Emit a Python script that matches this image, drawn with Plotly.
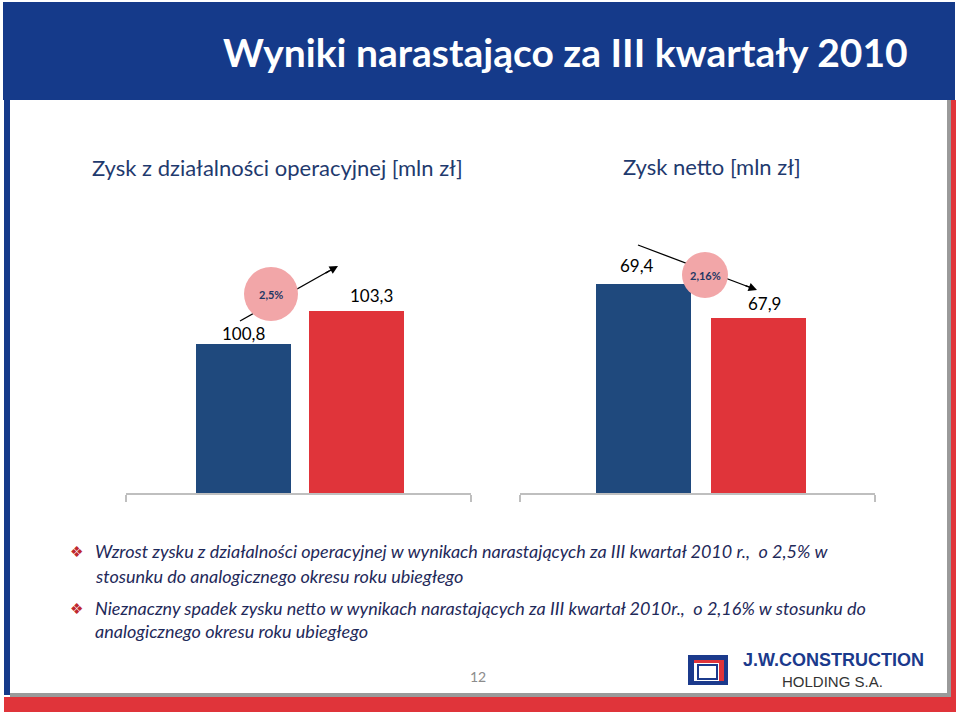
import plotly.graph_objects as go

W, H = 960, 716

# ---- data ----
periods = ["III kw. 2009", "III kw. 2010"]
op_profit = [100.8, 103.3]          # Zysk z działalności operacyjnej [mln zł]
net_profit = [69.4, 67.9]           # Zysk netto [mln zł]
op_labels = ["100,8", "103,3"]
net_labels = ["69,4", "67,9"]
op_change = "2,5%"
net_change = "2,16%"
bar_colors = ["#1F497D", "#E0343A"]

title_text = "Wyniki narastająco za III kwartały 2010"
sub_left = "Zysk z działalności operacyjnej [mln zł]"
sub_right = "Zysk netto [mln zł]"
bullet1 = ["Wzrost zysku z działalności operacyjnej w wynikach narastających za III kwartał 2010 r.,  o 2,5% w",
           "stosunku do analogicznego okresu roku ubiegłego"]
bullet2 = ["Nieznaczny spadek zysku netto w wynikach narastających za III kwartał 2010r.,  o 2,16% w stosunku do",
           "analogicznego okresu roku ubiegłego"]
page_no = "12"


def px(x):
    return x / W


def py(y):
    return 1 - y / H


fig = go.Figure()
fig.add_trace(go.Bar(x=[0, 1], y=op_profit, marker=dict(color=bar_colors, line=dict(width=0)),
                     width=0.84, xaxis="x", yaxis="y", hoverinfo="skip", showlegend=False))
fig.add_trace(go.Bar(x=[0, 1], y=net_profit, marker=dict(color=bar_colors, line=dict(width=0)),
                     width=0.826, xaxis="x2", yaxis="y2", hoverinfo="skip", showlegend=False))

ytop, ybot = 240, 493
xr1 = [-1.04, 2.013]
xr2 = [-1.074, 2.013]
axis_common = dict(showline=True, linecolor="#BFBFBF", linewidth=1.5, ticks="outside",
                   ticklen=7, tickcolor="#BFBFBF", tickwidth=1.5, showticklabels=False,
                   showgrid=False, zeroline=False, fixedrange=True)

fig.update_layout(
    width=W, height=H,
    margin=dict(l=0, r=0, t=0, b=0),
    paper_bgcolor="white", plot_bgcolor="rgba(0,0,0,0)",
    bargap=0,
    xaxis=dict(domain=[px(126), px(471)], range=xr1, tickvals=xr1, anchor="y", **axis_common),
    yaxis=dict(domain=[py(ybot), py(ytop)], range=[89.51, 89.51 + (ybot - ytop) / 13.2],
               visible=False, fixedrange=True, anchor="x"),
    xaxis2=dict(domain=[px(520), px(875)], range=xr2, tickvals=xr2, anchor="y2", **axis_common),
    yaxis2=dict(domain=[py(ybot), py(ytop)], range=[60.18, 60.18 + (ybot - ytop) / 22.67],
                visible=False, fixedrange=True, anchor="x2"),
    showlegend=False,
)

shapes = []
# header band
shapes.append(dict(type="rect", xref="paper", yref="paper", x0=px(3), x1=px(955), y0=py(100), y1=py(2),
                   fillcolor="#153A8A", line=dict(width=0), layer="below"))
# left blue strip
shapes.append(dict(type="rect", xref="paper", yref="paper", x0=px(4), x1=px(10), y0=py(695), y1=py(100),
                   fillcolor="#153A8A", line=dict(width=0), layer="below"))
# right gray + red strip
shapes.append(dict(type="rect", xref="paper", yref="paper", x0=px(947), x1=px(951), y0=py(697), y1=py(100),
                   fillcolor="#9A9A9A", line=dict(width=0), layer="below"))
shapes.append(dict(type="rect", xref="paper", yref="paper", x0=px(951), x1=px(956), y0=py(712), y1=py(100),
                   fillcolor="#E0343A", line=dict(width=0), layer="below"))
# bottom gray + red band
shapes.append(dict(type="rect", xref="paper", yref="paper", x0=px(10), x1=px(951), y0=py(697), y1=py(693),
                   fillcolor="#9A9A9A", line=dict(width=0), layer="below"))
shapes.append(dict(type="rect", xref="paper", yref="paper", x0=px(4), x1=px(956), y0=py(712), y1=py(697),
                   fillcolor="#E0343A", line=dict(width=0), layer="below"))

# arrows (lines) and circles
shapes.append(dict(type="line", xref="paper", yref="paper", x0=px(240), y0=py(321), x1=px(329), y1=py(271),
                   line=dict(color="black", width=1.3), layer="above"))
shapes.append(dict(type="line", xref="paper", yref="paper", x0=px(638), y0=py(245), x1=px(749), y1=py(287),
                   line=dict(color="black", width=1.3), layer="above"))
shapes.append(dict(type="circle", xref="paper", yref="paper", x0=px(244), x1=px(298), y0=py(321), y1=py(267),
                   fillcolor="#F2A6A8", line=dict(width=0), layer="above"))
shapes.append(dict(type="circle", xref="paper", yref="paper", x0=px(682), x1=px(728), y0=py(298), y1=py(252),
                   fillcolor="#F2A6A8", line=dict(width=0), layer="above"))

# logo
shapes.append(dict(type="rect", xref="paper", yref="paper", x0=px(688), x1=px(728), y0=py(685), y1=py(655),
                   fillcolor="#1B3A8C", line=dict(width=0), layer="above"))
shapes.append(dict(type="rect", xref="paper", yref="paper", x0=px(694), x1=px(724), y0=py(681), y1=py(660),
                   fillcolor="#E0343A", line=dict(width=0), layer="above"))
shapes.append(dict(type="rect", xref="paper", yref="paper", x0=px(694), x1=px(719), y0=py(681), y1=py(663),
                   fillcolor="white", line=dict(width=0), layer="above"))
shapes.append(dict(type="rect", xref="paper", yref="paper", x0=px(698), x1=px(717), y0=py(679), y1=py(665),
                   fillcolor="white", line=dict(color="#1B3A8C", width=2), layer="above"))

fig.update_layout(shapes=shapes)

ann = []


def txt(x, y, s, size, color, family="Lato", xanchor="left", yanchor="middle", bold=False, italic=False):
    t = f"<b>{s}</b>" if bold else s
    t = f"<i>{t}</i>" if italic else t
    ann.append(dict(xref="paper", yref="paper", x=px(x), y=py(y), text=t, showarrow=False,
                    xanchor=xanchor, yanchor=yanchor, font=dict(size=size, color=color, family=family)))


txt(565, 52, title_text, 39, "white", xanchor="center", bold=True)
txt(90, 168, sub_left, 22, "#1F3A6E")
txt(621, 167, sub_right, 22, "#1F3A6E")

# data labels
offs = [(0, -2), (15, 3)]
for i, (v, lab) in enumerate(zip(op_profit, op_labels)):
    ann.append(dict(xref="x", yref="y", x=i, y=v, text=lab, showarrow=False, xanchor="center",
                    yanchor="bottom", xshift=offs[i][0], yshift=offs[i][1],
                    font=dict(size=17, color="black", family="Lato")))
offs2 = [(-7, 6), (6, 2)]
for i, (v, lab) in enumerate(zip(net_profit, net_labels)):
    ann.append(dict(xref="x2", yref="y2", x=i, y=v, text=lab, showarrow=False, xanchor="center",
                    yanchor="bottom", xshift=offs2[i][0], yshift=offs2[i][1],
                    font=dict(size=17, color="black", family="Lato")))

# arrowheads
ann.append(dict(xref="paper", yref="paper", x=px(338), y=py(266), ax=-14, ay=8, text="", showarrow=True,
                arrowhead=2, arrowsize=1.3, arrowwidth=1.3, arrowcolor="black"))
ann.append(dict(xref="paper", yref="paper", x=px(757), y=py(290), ax=-13, ay=-5, text="", showarrow=True,
                arrowhead=2, arrowsize=1.3, arrowwidth=1.3, arrowcolor="black"))

# circle texts
txt(271, 294, op_change, 11, "#1F3864", xanchor="center", bold=True)
txt(705, 275, net_change, 11, "#1F3864", xanchor="center", bold=True)

# bullets
navy = "#1F2A5A"
txt(76, 552, "❖", 15, "#C0282E", family="DejaVu Sans", xanchor="center")
txt(93, 551, bullet1[0], 18, navy, italic=True)
txt(93, 576, bullet1[1], 18, navy, italic=True)
txt(76, 609, "❖", 15, "#C0282E", family="DejaVu Sans", xanchor="center")
txt(93, 608, bullet2[0], 18, navy, italic=True)
txt(93, 631, bullet2[1], 18, navy, italic=True)

txt(478, 676, page_no, 14, "#8C8C8C", xanchor="center")

# logo text
txt(833, 660, "J.W.CONSTRUCTION", 18, "#1B3A8C", family="Liberation Sans", xanchor="center", bold=True)
txt(832, 681, "HOLDING S.A.", 15, "#333333", family="Liberation Sans", xanchor="center")

fig.update_layout(annotations=ann)
fig.write_html("out.html", config={"displayModeBar": False},
               post_script="document.body.style.margin='0';document.body.style.overflow='hidden';")
